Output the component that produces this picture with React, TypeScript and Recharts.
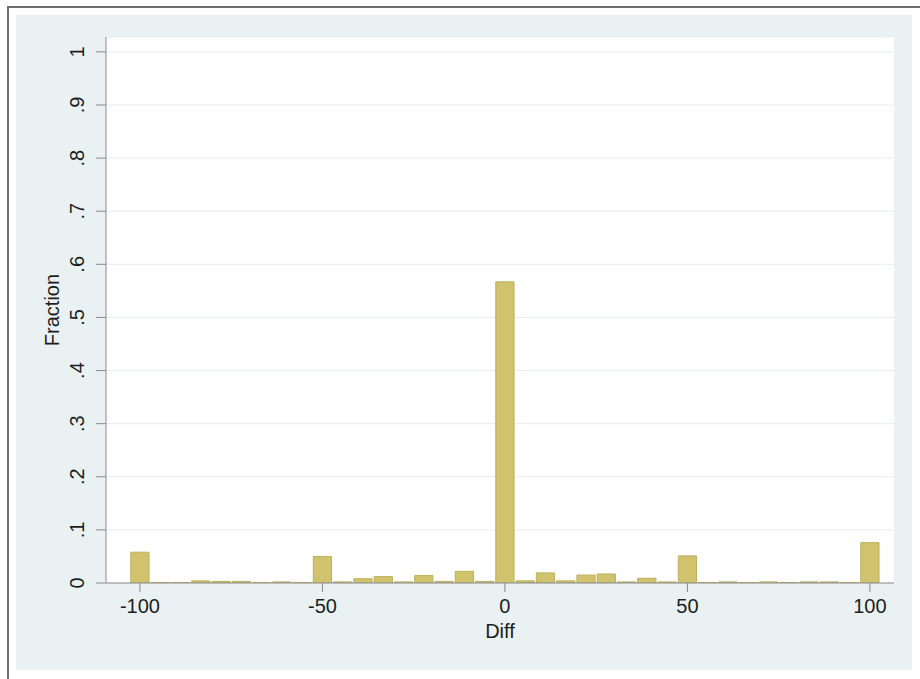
import React from "react";
import { Bar, BarChart, CartesianGrid, XAxis, YAxis } from "recharts";

// bin centres (width 50/9) and fraction per bin
const binCenters = [
  -100, -94.44, -88.89, -83.33, -77.78, -72.22, -66.67, -61.11, -55.56, -50, -44.44, -38.89, -33.33,
  -27.78, -22.22, -16.67, -11.11, -5.56, 0, 5.56, 11.11, 16.67, 22.22, 27.78, 33.33, 38.89, 44.44, 50,
  55.56, 61.11, 66.67, 72.22, 77.78, 83.33, 88.89, 94.44, 100,
];
const fractions = [
  0.058, 0.001, 0.001, 0.004, 0.003, 0.003, 0.001, 0.002, 0.001, 0.05, 0.002, 0.008, 0.012,
  0.002, 0.014, 0.003, 0.022, 0.003, 0.567, 0.004, 0.019, 0.004, 0.015, 0.017, 0.002, 0.009, 0.002, 0.051,
  0.001, 0.002, 0.001, 0.002, 0.001, 0.002, 0.002, 0.001, 0.076,
];
const xTicks = [-100, -50, 0, 50, 100];
const yTicks = [0, 0.1, 0.2, 0.3, 0.4, 0.5, 0.6, 0.7, 0.8, 0.9, 1];

const data = binCenters.map((diff, i) => ({ diff, fraction: fractions[i] }));

const W = 920;
const H = 679;
const margin = { top: 37, right: 26, bottom: 36, left: 46 };
const yAxisWidth = 60;
const xAxisHeight = 60;
const xDomain: [number, number] = [-109.3, 106.6];
const plotWidth = W - margin.left - margin.right - yAxisWidth;
const binWidth = binCenters[1] - binCenters[0];
const barSize = (binWidth / (xDomain[1] - xDomain[0])) * plotWidth;

const font = "'Liberation Sans', Arial, Helvetica, sans-serif";
const textColor = "#1e1e1e";
const axisColor = "#8a8a8a";

const fmtY = (v: number) => (v === 0 ? "0" : v === 1 ? "1" : String(v).replace(/^0/, ""));

function YTick(props: any) {
  const { x, y, payload } = props;
  const bx = x - 10;
  return (
    <text x={bx} y={y} transform={`rotate(-90, ${bx}, ${y})`} textAnchor="middle" fontSize={20} fontFamily={font} fill={textColor}>
      {fmtY(payload.value)}
    </text>
  );
}

function XTick(props: any) {
  const { x, y, payload } = props;
  return (
    <text x={x} y={y + 19} textAnchor="middle" fontSize={20} fontFamily={font} fill={textColor}>
      {payload.value}
    </text>
  );
}

export default function App() {
  return (
    <div style={{ position: "fixed", left: 0, top: 0, width: W, height: H, background: "#fff", overflow: "hidden" }}>
      <div style={{ position: "absolute", left: 7, top: 6, width: W, height: H, borderLeft: "2px solid #6e6e6e", borderTop: "2px solid #6e6e6e" }} />
      <div style={{ position: "absolute", left: 16, top: 15, width: 896, height: 655, background: "#e9f1f3" }} />
      <div style={{ position: "absolute", left: 0, top: 0 }}>
        <BarChart width={W} height={H} data={data} margin={margin} barCategoryGap={0} barGap={0}>
          <CartesianGrid vertical={false} fill="#ffffff" stroke="#e6eeee" strokeWidth={1} />
          <XAxis
            dataKey="diff"
            type="number"
            domain={xDomain}
            ticks={xTicks}
            height={xAxisHeight}
            tickSize={9}
            stroke={axisColor}
            tickLine={{ stroke: axisColor }}
            tick={<XTick />}
            allowDataOverflow
            label={{
              content: (p: any) => {
                const vb = p.viewBox;
                return (
                  <text x={vb.x + vb.width / 2} y={vb.y + 55} textAnchor="middle" fontSize={20} fontFamily={font} fill={textColor}>
                    Diff
                  </text>
                );
              },
            }}
          />
          <YAxis
            type="number"
            domain={[0, 1.028]}
            ticks={yTicks}
            width={yAxisWidth}
            tickSize={10}
            stroke={axisColor}
            tickLine={{ stroke: axisColor }}
            tick={<YTick />}
            allowDataOverflow
            label={{
              content: (p: any) => {
                const vb = p.viewBox;
                const lx = vb.x + 13;
                const ly = vb.y + vb.height / 2;
                return (
                  <text x={lx} y={ly} transform={`rotate(-90, ${lx}, ${ly})`} textAnchor="middle" fontSize={20} fontFamily={font} fill={textColor}>
                    Fraction
                  </text>
                );
              },
            }}
          />
          <Bar dataKey="fraction" fill="#d1c36e" stroke="#bcae5e" strokeWidth={1} barSize={barSize} isAnimationActive={false} />
        </BarChart>
      </div>
    </div>
  );
}
